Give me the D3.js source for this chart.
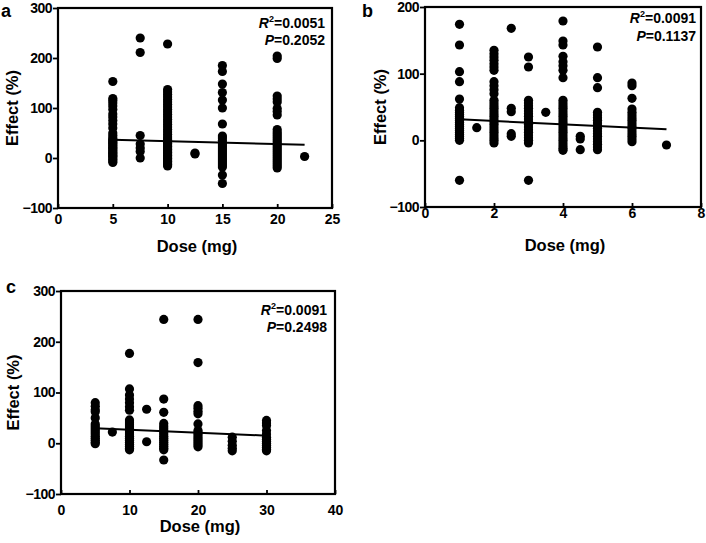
<!DOCTYPE html>
<html>
<head>
<meta charset="utf-8">
<script src="https://cdn.jsdelivr.net/npm/d3@7"></script>
<style>
  html, body { margin: 0; padding: 0; background: #fff; }
  svg { display: block; font-family: "Liberation Sans", Arial, Helvetica, sans-serif; }
</style>
</head>
<body>
<svg id="chart" width="706" height="543"></svg>
<script>
// ---------------- DATA ----------------
// Panel a: dose (mg) groups and effect (%) values
const dosesA = [5, 7.5, 10, 12.5, 15, 20, 22.5];
const effectsA = [
  [153, 119, 115, 110, 104, 97, 88, 82, 75, 68, 60, 50, 45, 40, 37, 35, 32, 30, 28, 25, 22, 20, 18, 15, 12, 10, 8, 5, 3, 0, -3, -6, -9],
  [240, 211, 45, 28, 20, 13, 0],
  [228, 137, 132, 127, 122, 117, 112, 107, 102, 97, 92, 87, 82, 77, 72, 67, 62, 57, 52, 47, 42, 38, 35, 32, 29, 26, 23, 20, 17, 14, 11, 8, 5, 2, -1, -4, -7, -10, -13, -16],
  [10, 8],
  [185, 173, 148, 131, 116, 100, 68, 44, 40, 35, 30, 26, 22, 18, 14, 10, 6, 2, -2, -6, -10, -14, -18, -34, -51],
  [204, 199, 124, 118, 112, 99, 93, 86, 57, 52, 48, 44, 40, 36, 32, 28, 24, 20, 16, 12, 8, 4, 0, -4, -8, -12, -16, -20],
  [3]
];
const fitA = [[5, 36.5], [22.5, 26.5]];
const statsA = ["0.0051", "0.2052"];

// Panel b
const dosesB = [1, 1.5, 2, 2.5, 3, 3.5, 4, 4.5, 5, 6, 7];
const effectsB = [
  [174, 143, 103, 88, 62, 49, 45, 42, 39, 36, 33, 30, 27, 24, 21, 18, 15, 12, 9, 6, 3, 0, -60],
  [19],
  [135, 130, 125, 120, 115, 110, 105, 88, 82, 76, 70, 60, 56, 52, 48, 44, 40, 36, 32, 28, 24, 20, 16, 12, 8, 4, 0, -4],
  [168, 48, 43, 10, 6],
  [125, 110, 60, 56, 52, 48, 44, 40, 36, 32, 28, 24, 20, 16, 12, 8, 4, 0, -4, -60],
  [42],
  [179, 149, 143, 126, 118, 112, 105, 94, 60, 56, 52, 48, 44, 40, 36, 32, 28, 24, 20, 16, 12, 8, 4, 0, -4, -8, -12, -15],
  [6, 2, -14],
  [140, 94, 79, 42, 38, 34, 30, 26, 22, 18, 14, 10, 6, 2, -2, -6, -10, -14],
  [86, 82, 63, 47, 42, 38, 34, 30, 26, 22, 18, 14, 10, 6, 2, -2],
  [-7]
];
const fitB = [[1, 31.5], [7, 16.5]];
const statsB = ["0.0091", "0.1137"];

// Panel c
const dosesC = [5, 7.5, 10, 12.5, 15, 20, 25, 30];
const effectsC = [
  [80, 73, 66, 62, 50, 38, 34, 30, 26, 22, 18, 14, 10, 6, 2, -1],
  [22],
  [177, 107, 95, 87, 80, 72, 65, 46, 42, 38, 34, 30, 26, 22, 18, 14, 10, 6, 2, -2, -6, -10, -13],
  [67, 3],
  [244, 87, 61, 39, 34, 30, 26, 22, 18, 14, 10, 6, 2, -2, -6, -10, -13, -33],
  [244, 159, 74, 69, 63, 58, 38, 25, 21, 17, 13, 9, 5, 1, -3, -7],
  [12, 4, -4, -10, -15],
  [45, 40, 35, 25, 18, 12, 8, 4, 0, -4, -8, -12, -15]
];
const fitC = [[5, 29.5], [30, 15]];
const statsC = ["0.0091", "0.2498"];

// Axis ticks
const xTicksA = [0, 5, 10, 15, 20, 25];
const yTicksA = [-100, 0, 100, 200, 300];
const xTicksB = [0, 2, 4, 6, 8];
const yTicksB = [-100, 0, 100, 200];
const xTicksC = [0, 10, 20, 30, 40];
const yTicksC = [-100, 0, 100, 200, 300];

const xTitle = "Dose (mg)";
const yTitle = "Effect (%)";

// ---------------- DRAW ----------------
const svg = d3.select("#chart");
const FONT = "'Liberation Sans', Arial, Helvetica, sans-serif";

function toPoints(doses, effects) {
  const pts = [];
  doses.forEach((d, i) => effects[i].forEach(v => pts.push({ x: d, y: v })));
  return pts;
}

function drawPanel(opt) {
  const { left, top, w, h, xDomain, yDomain, xTicks, yTicks, doses, effects, fit, stats,
          letter, letterPos, xLabPad, yTitleX, xTitleY, statsRight, statsY } = opt;
  const g = svg.append("g");
  const x = d3.scaleLinear().domain(xDomain).range([left, left + w]);
  const y = d3.scaleLinear().domain(yDomain).range([top + h, top]);

  // points
  g.append("g").selectAll("circle")
    .data(toPoints(doses, effects))
    .join("circle")
    .attr("cx", d => x(d.x))
    .attr("cy", d => y(d.y))
    .attr("r", 4.6)
    .attr("fill", "#000");

  // regression line
  g.append("path")
    .datum(fit)
    .attr("d", d3.line().x(d => x(d[0])).y(d => y(d[1])))
    .attr("fill", "none")
    .attr("stroke", "#000")
    .attr("stroke-width", 2);

  // frame
  g.append("rect")
    .attr("x", left).attr("y", top).attr("width", w).attr("height", h)
    .attr("fill", "none").attr("stroke", "#000").attr("stroke-width", 2.2);

  // x axis
  const xa = g.append("g")
    .attr("transform", `translate(0,${top + h})`)
    .call(d3.axisBottom(x).tickValues(xTicks).tickSize(-4).tickPadding(xLabPad).tickFormat(d3.format("d")));
  xa.select(".domain").remove();
  xa.selectAll("line").attr("stroke", "#000").attr("stroke-width", 1.8);
  xa.selectAll("text").attr("font-size", 14).attr("font-weight", "bold").attr("fill", "#000")
    .attr("font-family", FONT);

  // y axis
  const ya = g.append("g")
    .attr("transform", `translate(${left},0)`)
    .call(d3.axisLeft(y).tickValues(yTicks).tickSize(5).tickPadding(1).tickFormat(d3.format("d")));
  ya.select(".domain").remove();
  ya.selectAll("line").attr("stroke", "#000").attr("stroke-width", 1.8);
  ya.selectAll("text").attr("font-size", 14).attr("font-weight", "bold").attr("fill", "#000")
    .attr("font-family", FONT).attr("letter-spacing", -0.5);

  // axis titles
  g.append("text")
    .attr("x", left + w / 2 + 2).attr("y", xTitleY)
    .attr("text-anchor", "middle")
    .attr("font-size", 16.5).attr("font-weight", "bold")
    .text(xTitle);
  g.append("text")
    .attr("transform", `translate(${yTitleX},${top + h / 2}) rotate(-90)`)
    .attr("text-anchor", "middle")
    .attr("dominant-baseline", "central")
    .attr("font-size", 16.5).attr("font-weight", "bold")
    .text(yTitle);

  // stats
  const t1 = g.append("text").attr("x", statsRight).attr("y", statsY[0])
    .attr("text-anchor", "end").attr("font-size", 14).attr("font-weight", "bold");
  t1.append("tspan").attr("font-style", "italic").text("R");
  t1.append("tspan").attr("font-size", 9).attr("dy", -6).text("2");
  t1.append("tspan").attr("dy", 6).text("=" + stats[0]);
  const t2 = g.append("text").attr("x", statsRight).attr("y", statsY[1])
    .attr("text-anchor", "end").attr("font-size", 14).attr("font-weight", "bold");
  t2.append("tspan").attr("font-style", "italic").text("P");
  t2.append("tspan").text("=" + stats[1]);

  // panel letter
  g.append("text").attr("x", letterPos[0]).attr("y", letterPos[1])
    .attr("font-size", 18).attr("font-weight", "bold").text(letter);
}

drawPanel({
  left: 58, top: 8, w: 274, h: 200,
  xDomain: [0, 25], yDomain: [-100, 300], xTicks: xTicksA, yTicks: yTicksA,
  doses: dosesA, effects: effectsA, fit: fitA, stats: statsA,
  letter: "a", letterPos: [1, 17], xLabPad: 6, yTitleX: 12, xTitleY: 252,
  statsRight: 325, statsY: [28, 45]
});

drawPanel({
  left: 425, top: 7, w: 276, h: 200,
  xDomain: [0, 8], yDomain: [-100, 200], xTicks: xTicksB, yTicks: yTicksB,
  doses: dosesB, effects: effectsB, fit: fitB, stats: statsB,
  letter: "b", letterPos: [362, 17], xLabPad: 1, yTitleX: 380, xTitleY: 251,
  statsRight: 696, statsY: [23, 41]
});

drawPanel({
  left: 61, top: 291, w: 274, h: 203,
  xDomain: [0, 40], yDomain: [-100, 300], xTicks: xTicksC, yTicks: yTicksC,
  doses: dosesC, effects: effectsC, fit: fitC, stats: statsC,
  letter: "c", letterPos: [6, 293], xLabPad: 11, yTitleX: 13, xTitleY: 532,
  statsRight: 327, statsY: [315, 332]
});
</script>
</body>
</html>
